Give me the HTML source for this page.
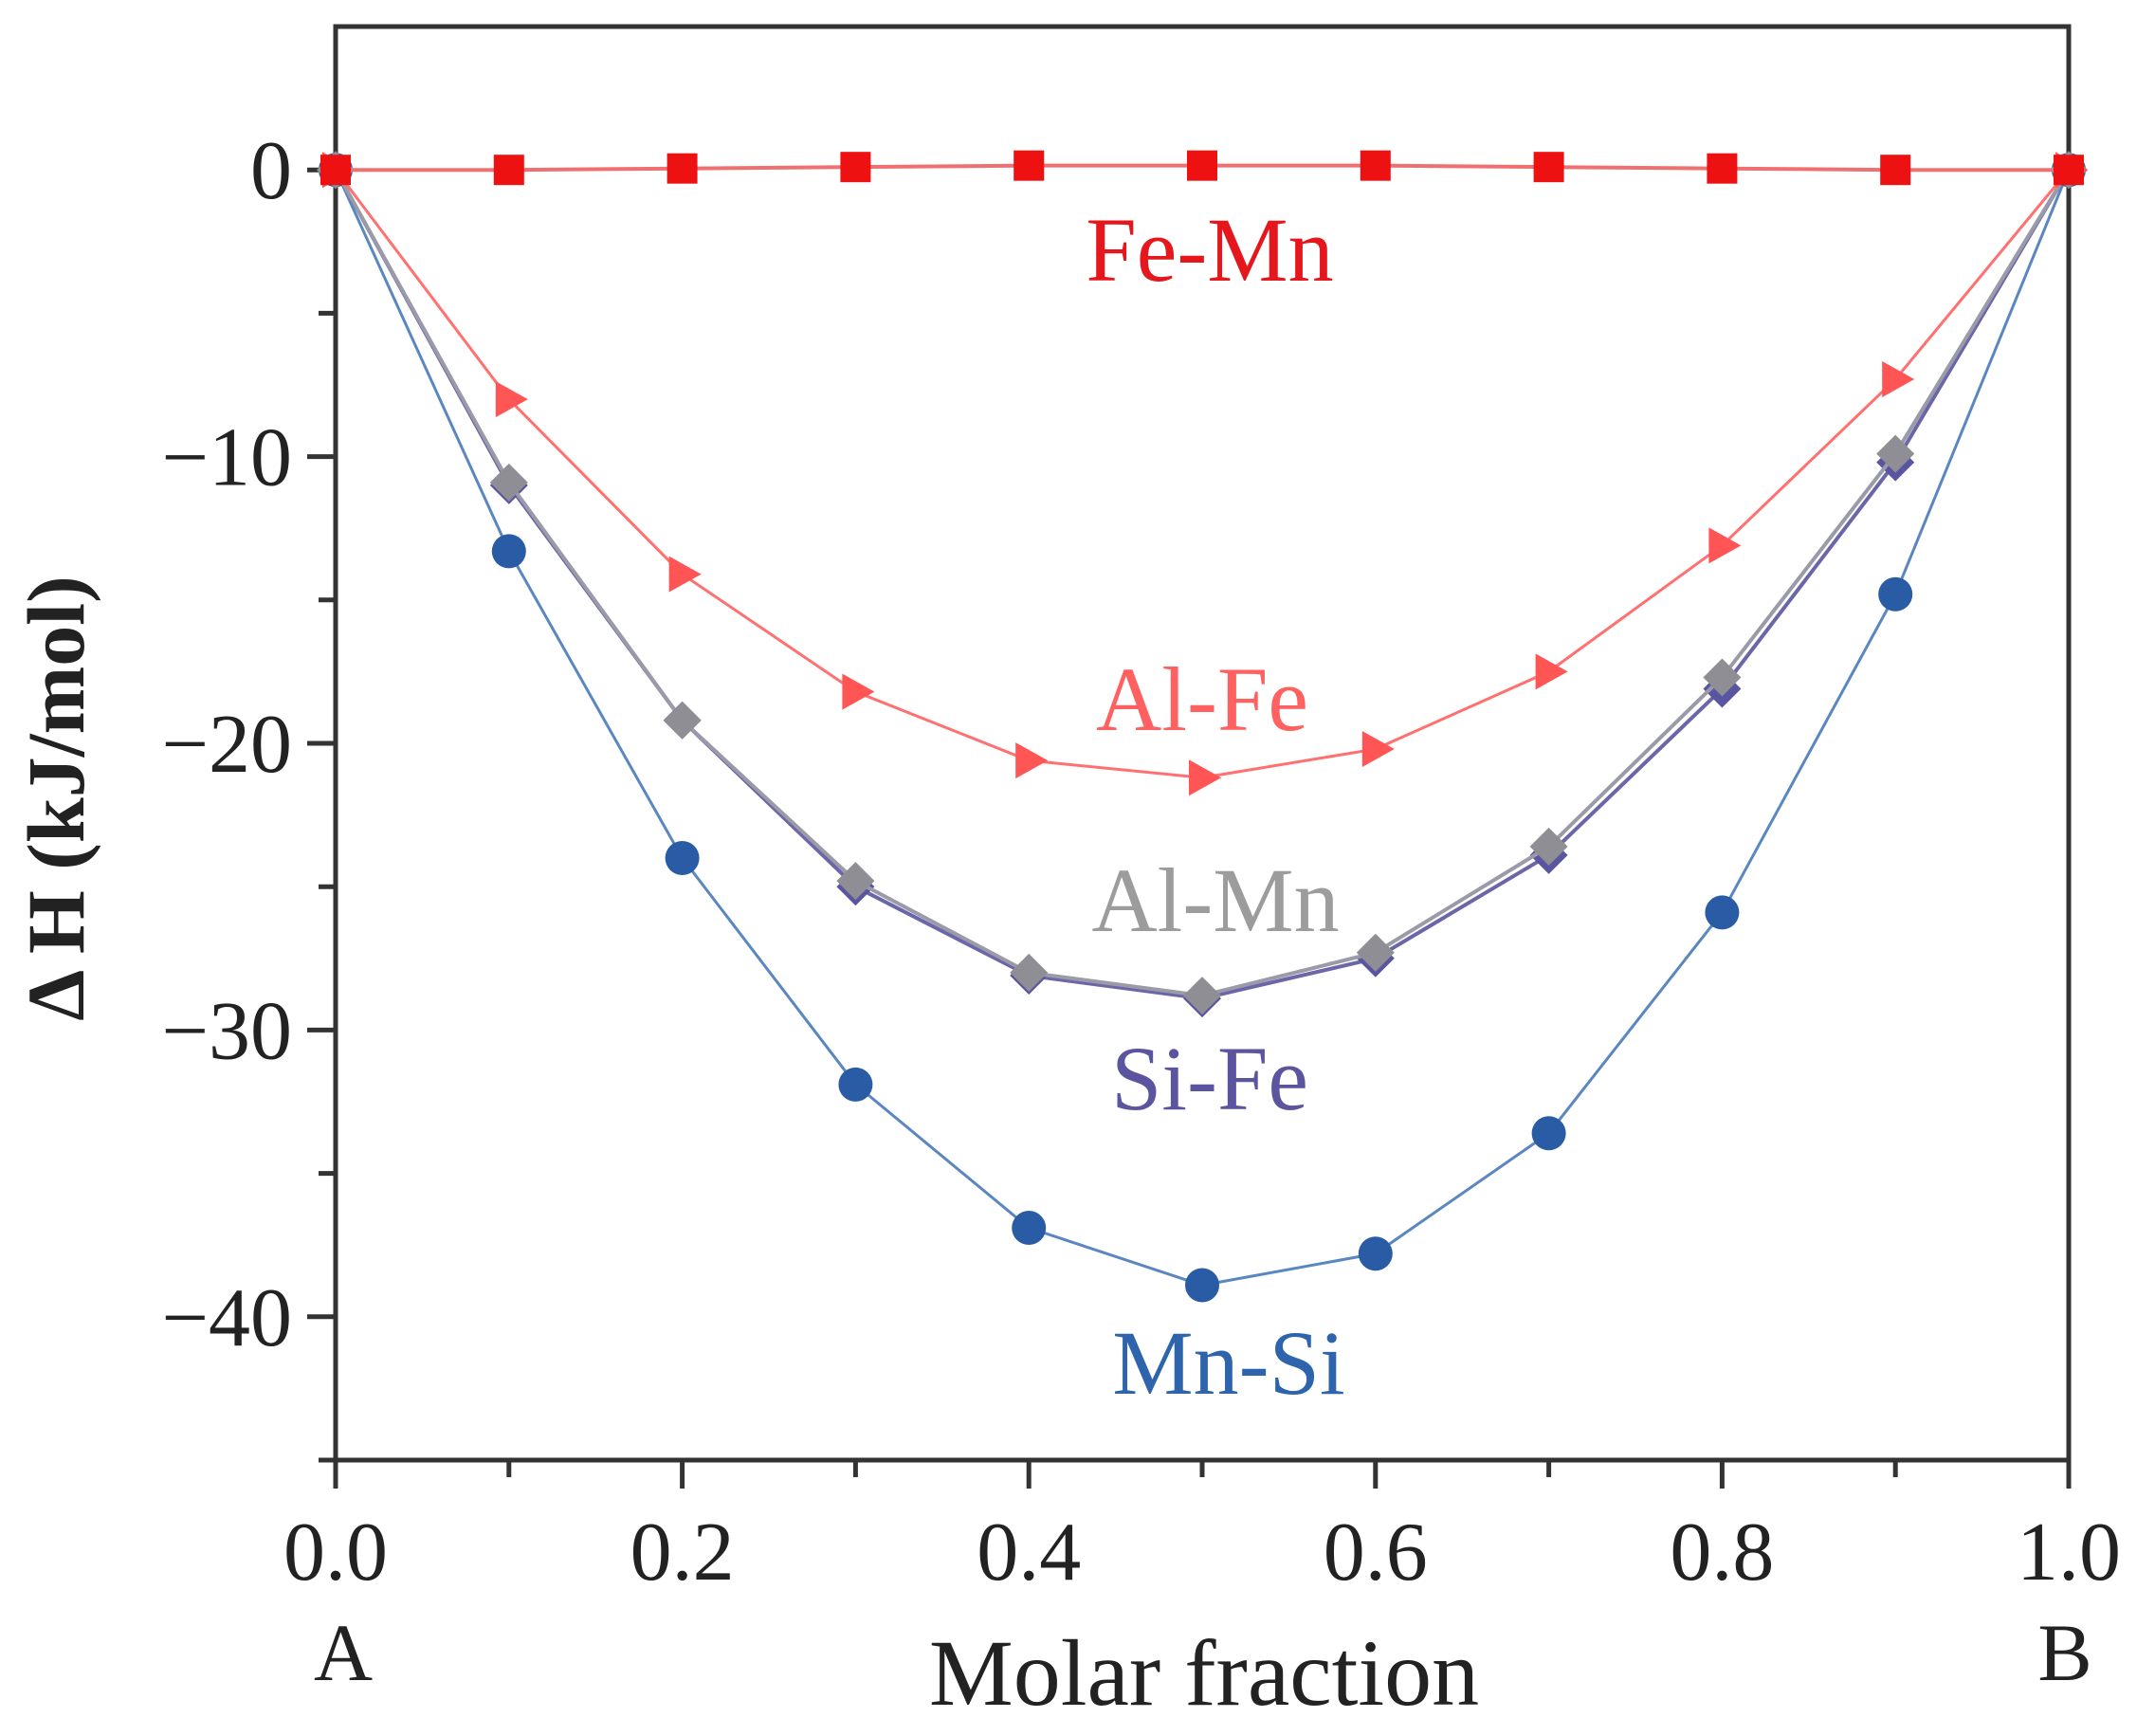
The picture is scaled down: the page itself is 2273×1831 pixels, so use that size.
<!DOCTYPE html>
<html><head><meta charset="utf-8"><style>
html,body{margin:0;padding:0;background:#fff;}
svg text{font-family:"Liberation Serif",serif;}
</style></head><body>
<svg id="chart" width="2273" height="1826" viewBox="0 0 2273 1826" xmlns="http://www.w3.org/2000/svg">
<g id="plot"></g>
</svg>
<script>
const xValues=[0,0.1,0.2,0.3,0.4,0.5,0.6,0.7,0.8,0.9,1.0];
const feMn=[0,0,0.05,0.1,0.15,0.15,0.15,0.1,0.05,0,0];
const alFe=[0,-8,-14.1,-18.2,-20.6,-21.2,-20.2,-17.5,-13.1,-7.3,0];
const alMn=[0,-10.9,-19.2,-24.8,-28,-28.8,-27.3,-23.6,-17.7,-9.9,0];
const siFe=[0,-11,-19.2,-25,-28.1,-28.9,-27.5,-23.9,-18.1,-10.2,0];
const mnSi=[0,-13.3,-24,-31.9,-36.9,-38.9,-37.8,-33.6,-25.9,-14.8,0];
const xTickLabels=["0.0","0.2","0.4","0.6","0.8","1.0"];
const yTickValues=[0,-10,-20,-30,-40];
const yTickLabels=["0","\u221210","\u221220","\u221230","\u221240"];

const L=354,R=2182,T=28,B=1540,XMIN=0,XMAX=1,YMIN=-45,YMAX=5;
const sx=v=>L+(v-XMIN)/(XMAX-XMIN)*(R-L);
const sy=v=>B-(v-YMIN)/(YMAX-YMIN)*(B-T);
const NS="http://www.w3.org/2000/svg";
const g=document.getElementById('plot');
function mk(tag,attrs,parent){const e=document.createElementNS(NS,tag);for(const k in attrs)e.setAttribute(k,attrs[k]);(parent||g).appendChild(e);return e;}

let frame=mk('rect',{x:L,y:T,width:R-L,height:B-T,fill:'none',stroke:'#333',"stroke-width":5});



for(let i=0;i<=10;i++){
  const v=i/10,x=sx(v),major=i%2===0;
  let t=mk('line',{x1:x,y1:B,x2:x,y2:B+(major?30:18),stroke:'#333',"stroke-width":5});
  
  
}
xTickLabels.forEach((lab,i)=>{
  let t=mk('text',{x:sx(i*0.2),y:1666,"font-size":88,"text-anchor":"middle",fill:'#222'});
  t.textContent=lab;
  
  
});
for(let v=0;v>=-45;v-=5){
  const y=sy(v),major=v%10===0;
  let t=mk('line',{x1:L,y1:y,x2:L-(major?30:18),y2:y,stroke:'#333',"stroke-width":5});
  
  
}
yTickValues.forEach((v,i)=>{
  let t=mk('text',{x:308,y:sy(v)+30,"font-size":88,"text-anchor":"end",fill:'#222'});
  t.textContent=yTickLabels[i];
  
  
});
let ta=mk('text',{x:362,y:1772,"font-size":86,"text-anchor":"middle",fill:'#222'});ta.textContent='A';


let tb=mk('text',{x:2178,y:1772,"font-size":86,"text-anchor":"middle",fill:'#222'});tb.textContent='B';


let xt=mk('text',{x:1270,y:1798,"font-size":100,"text-anchor":"middle",fill:'#222'});xt.textContent='Molar fraction';


let yt=mk('text',{x:0,y:0,"font-size":86,"font-weight":"bold","text-anchor":"middle",fill:'#222',transform:'translate(88,842) rotate(-90)'});yt.textContent='\u0394 H (kJ/mol)';



function series(name,vals,line,mcol,marker,sw){
  const grp=mk('g',{});
  
  
  const pts=vals.map((v,i)=>sx(xValues[i])+','+sy(v)).join(' ');
  let pl=mk('polyline',{points:pts,fill:'none',stroke:line,"stroke-width":sw},grp);
  
  
  vals.forEach((v,i)=>{
    const x=sx(xValues[i]),y=sy(v);let m;
    if(marker==='square')m=mk('rect',{x:x-16,y:y-16,width:32,height:32,fill:mcol},grp);
    else if(marker==='tri')m=mk('polygon',{points:`${x+20},${y} ${x-14},${y-19} ${x-14},${y+19}`,fill:mcol},grp);
    else if(marker==='diamond')m=mk('polygon',{points:`${x},${y-20} ${x+20},${y} ${x},${y+20} ${x-20},${y}`,fill:mcol},grp);
    else m=mk('circle',{cx:x,cy:y,r:18,fill:mcol},grp);
    
    
  });
}
series('mn-si',mnSi,'#5b87c0','#2a5ca5','circle',3);
series('si-fe',siFe,'#6a66a8','#5a55a0','diamond',4);
series('al-mn',alMn,'#9a9aa8','#8e8e94','diamond',4);
series('al-fe',alFe,'#ff7070','#ff5555','tri',3);
series('fe-mn',feMn,'#f07070','#ee1111','square',4);

const labels=[['Fe-Mn',1276,296,'#e5161c'],['Al-Fe',1268,770,'#ff6060'],['Al-Mn',1282,982,'#9c9c9c'],['Si-Fe',1276,1170,'#5b55a0'],['Mn-Si',1296,1470,'#2e64ac']];
labels.forEach(l=>{
  let t=mk('text',{x:l[1],y:l[2],"font-size":96,"text-anchor":"middle",fill:l[3]});
  t.textContent=l[0];
  
  
});
</script>
</body></html>
